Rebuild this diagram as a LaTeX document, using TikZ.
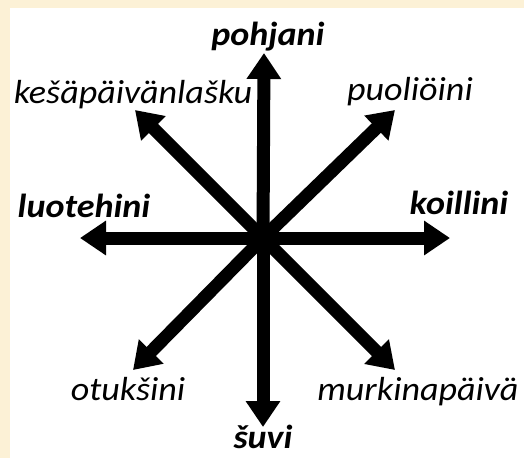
\documentclass[tikz,border=0pt]{standalone}
\usepackage{fontspec}
\setmainfont{Carlito}[FakeStretch=1.08]
\usepackage{tikz}
\usetikzlibrary{arrows.meta}
\definecolor{parch}{RGB}{252,241,214}

\begin{document}
\begin{tikzpicture}[x=0.02cm, y=-0.02cm,
  ray/.style={line width=13*0.02cm, -{Triangle[length=26*0.02cm, width=33*0.02cm]}},
  lbl/.style={anchor=base, inner sep=0pt, font=\fontsize{19}{21}\selectfont\itshape},
  main/.style={lbl, font=\fontsize{19}{21}\selectfont\bfseries\itshape}]

  % paper
  \fill[parch] (0,0) rectangle (524,458);
  \fill[white] (10,8) rectangle (524,458);
  \useasboundingbox (0,0) rectangle (524,458);

  \coordinate (c) at (263,238);
  \coordinate (n)  at (264,53);
  \coordinate (s)  at (263,427);
  \coordinate (w)  at (80,238);
  \coordinate (e)  at (450,238);
  \coordinate (nw) at (135,110);
  \coordinate (ne) at (395,110);
  \coordinate (sw) at (133,370);
  \coordinate (se) at (395,370);

  \foreach \d in {n,s,w,e,nw,ne,sw,se}
    \draw[ray] (c) -- (\d);

  \node[main] (lN)  at (268,45)  {pohjani};
  \node[main] (lS)  at (263,448) {šuvi};
  \node[main] (lW)  at (84,217)  {luotehini};
  \node[main] (lE)  at (459,214) {koillini};
  \node[lbl]  (lNW) at (133,103) {kešäpäivänlašku};
  \node[lbl]  (lNE) at (410,100) {puoliöini};
  \node[lbl]  (lSW) at (128,400) {otukšini};
  \node[lbl]  (lSE) at (418,400) {murkinapäivä};
\end{tikzpicture}
\end{document}
